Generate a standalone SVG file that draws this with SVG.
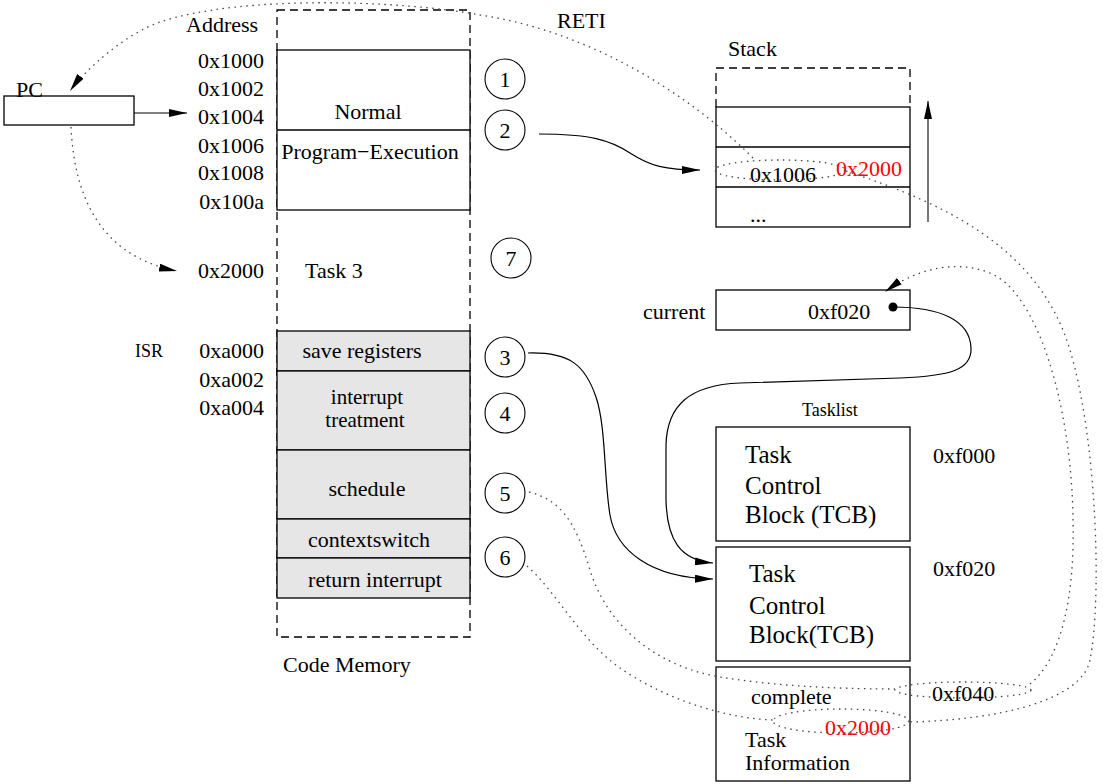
<svg xmlns="http://www.w3.org/2000/svg" width="1103" height="784" viewBox="0 0 1103 784">
<defs>
<style>
text{font-family:"Liberation Serif","Times New Roman",serif;font-size:22px;fill:#000}
.sm{font-size:18px}
.big{font-size:25px}
.it{font-size:21px}
.red{fill:#ff0000}
.mid{text-anchor:middle}
.end{text-anchor:end}
.box{fill:#fff;stroke:#000;stroke-width:1.3}
.isr{fill:#e6e6e6;stroke:#000;stroke-width:1.3}
.dash{fill:none;stroke:#000;stroke-width:1.3;stroke-dasharray:8 5}
.circ{fill:#fff;stroke:#000;stroke-width:1.1}
.solid{fill:none;stroke:#000;stroke-width:1.2}
.dot{fill:none;stroke:#444;stroke-width:1.3;stroke-dasharray:1.5 4.5}
</style>
<marker id="ah" markerUnits="userSpaceOnUse" markerWidth="18" markerHeight="8" refX="18" refY="4" orient="auto">
<path d="M0,0 L18,4 L0,8 z" fill="#000"/>
</marker>
</defs>
<rect width="1103" height="784" fill="#fff"/>

<g id="pc">
<rect class="box" x="4" y="96" width="130" height="29" fill="none"/>
<text x="16" y="97">PC</text>
</g>

<g id="code-memory">
<rect class="dash" x="277" y="10" width="193" height="627"/>
<text x="186" y="32">Address</text>
<text class="end" x="264" y="68">0x1000</text>
<text class="end" x="264" y="96">0x1002</text>
<text class="end" x="264" y="124">0x1004</text>
<text class="end" x="264" y="153">0x1006</text>
<text class="end" x="264" y="180">0x1008</text>
<text class="end" x="264" y="209">0x100a</text>
<text class="end" x="264" y="278">0x2000</text>
<text x="305" y="278">Task 3</text>
<text class="sm" x="135" y="357">ISR</text>
<text class="end" x="264" y="358">0xa000</text>
<text class="end" x="264" y="387">0xa002</text>
<text class="end" x="264" y="415">0xa004</text>
<text x="283" y="672">Code Memory</text>
</g>

<g id="normal">
<rect class="box" x="277" y="50" width="193" height="160"/>
<line x1="277" y1="130" x2="470" y2="130" stroke="#000" stroke-width="1.3"/>
<text class="mid" x="368" y="119">Normal</text>
<text class="mid" x="370" y="159">Program−Execution</text>
</g>

<g id="isr-save"><rect class="isr" x="277" y="331" width="193" height="40"/><text class="mid" x="362" y="358">save registers</text></g>
<g id="isr-treatment"><rect class="isr" x="277" y="371" width="193" height="79"/><text class="mid it" x="367" y="404">interrupt</text><text class="mid it" x="365" y="427">treatment</text></g>
<g id="isr-schedule"><rect class="isr" x="277" y="450" width="193" height="69"/><text class="mid" x="367" y="496">schedule</text></g>
<g id="isr-context"><rect class="isr" x="277" y="519" width="193" height="39"/><text class="mid" x="369" y="547">contextswitch</text></g>
<g id="isr-return"><rect class="isr" x="277" y="558" width="193" height="40"/><text class="mid" x="375" y="587">return interrupt</text></g>

<g id="step1"><circle class="circ" cx="505" cy="79" r="20"/><text class="mid" x="505" y="87">1</text></g>
<g id="step2"><circle class="circ" cx="505" cy="130" r="20"/><text class="mid" x="505" y="138">2</text></g>
<g id="step7"><circle class="circ" cx="511" cy="258" r="20"/><text class="mid" x="511" y="266">7</text></g>
<g id="step3"><circle class="circ" cx="505" cy="357" r="20"/><text class="mid" x="505" y="365">3</text></g>
<g id="step4"><circle class="circ" cx="505" cy="413" r="20"/><text class="mid" x="505" y="421">4</text></g>
<g id="step5"><circle class="circ" cx="505" cy="493" r="20"/><text class="mid" x="505" y="501">5</text></g>
<g id="step6"><circle class="circ" cx="505" cy="557" r="20"/><text class="mid" x="505" y="565">6</text></g>

<text x="557" y="28">RETI</text>

<g id="stack">
<text x="728" y="56">Stack</text>
<path class="dash" d="M716,107 V68 H910 V107"/>
<rect class="box" x="716" y="107" width="194" height="120"/>
<line x1="716" y1="147" x2="910" y2="147" stroke="#000" stroke-width="1.3"/>
<line x1="716" y1="187" x2="910" y2="187" stroke="#000" stroke-width="1.3"/>
<text x="750" y="182">0x1006</text>
<text class="red" x="836" y="176">0x2000</text>
<text x="750" y="222">...</text>
</g>

<g id="current">
<text x="643" y="319">current</text>
<rect class="box" x="716" y="290" width="194" height="40"/>
<text x="808" y="319">0xf020</text>
<circle cx="893" cy="307" r="4.5" fill="#000"/>
</g>

<g id="tasklist">
<text class="sm" x="802" y="416">Tasklist</text>
</g>

<g id="tcb1">
<rect class="box" x="716" y="427" width="194" height="114"/>
<text class="big" x="745" y="463">Task</text>
<text class="big" x="745" y="494">Control</text>
<text class="big" x="745" y="523">Block (TCB)</text>
<text x="933" y="463">0xf000</text>
</g>

<g id="tcb2">
<rect class="box" x="716" y="547" width="194" height="114"/>
<text class="big" x="749" y="582">Task</text>
<text class="big" x="749" y="614">Control</text>
<text class="big" x="749" y="643">Block(TCB)</text>
<text x="933" y="576">0xf020</text>
</g>

<g id="taskinfo">
<rect class="box" x="716" y="667" width="194" height="114"/>
<text x="751" y="704">complete</text>
<text x="745" y="747">Task</text>
<text x="745" y="770">Information</text>
<text x="932" y="701">0xf040</text>
<text class="red" x="825" y="735">0x2000</text>
</g>

<g id="connectors">
<line class="solid" x1="134" y1="113" x2="187" y2="113" marker-end="url(#ah)"/>
<line x1="928" y1="222" x2="928" y2="101" stroke="#555" stroke-width="1.6" marker-end="url(#ah)"/>
<path class="solid" d="M539,134 C590,134 610,140 630,153 C650,166 665,170 700,170" marker-end="url(#ah)"/>
<path class="solid" d="M528,353 C570,352 585,365 596,397 C606,426 604,480 610,515 C616,550 650,578 713,579" marker-end="url(#ah)"/>
<path class="solid" d="M893,307 C940,307 970,320 971,348 C972,370 950,376 900,378 L740,383 C690,385 667,405 666,445 L666,500 C667,540 680,560 713,563" marker-end="url(#ah)"/>
<path class="dot" d="M753,158 C680,85 580,30 480,15 C400,0 240,-5 160,22 C125,34 85,70 70,91" marker-end="url(#ah)"/>
<path class="dot" d="M71,127 C75,210 110,258 177,271" marker-end="url(#ah)"/>
<ellipse class="dot" cx="780" cy="170" rx="65" ry="10"/>
<ellipse class="dot" cx="963" cy="690" rx="68" ry="8"/>
<ellipse class="dot" cx="841" cy="721" rx="68" ry="12"/>
<path class="dot" d="M846,171 C950,205 1040,250 1070,350 C1097,440 1102,600 1090,660 C1082,700 1000,720 909,722"/>
<path class="dot" d="M1030,684 C1060,660 1075,600 1073,520 C1072,430 1050,330 1010,287 C985,260 930,258 885,292" marker-end="url(#ah)"/>
<path class="dot" d="M529,492 C560,500 575,520 590,570 C605,620 650,665 720,677 C780,687 850,689 895,689"/>
<path class="dot" d="M527,566 C555,590 580,640 620,668 C660,696 720,718 773,720"/>
</g>
</svg>
